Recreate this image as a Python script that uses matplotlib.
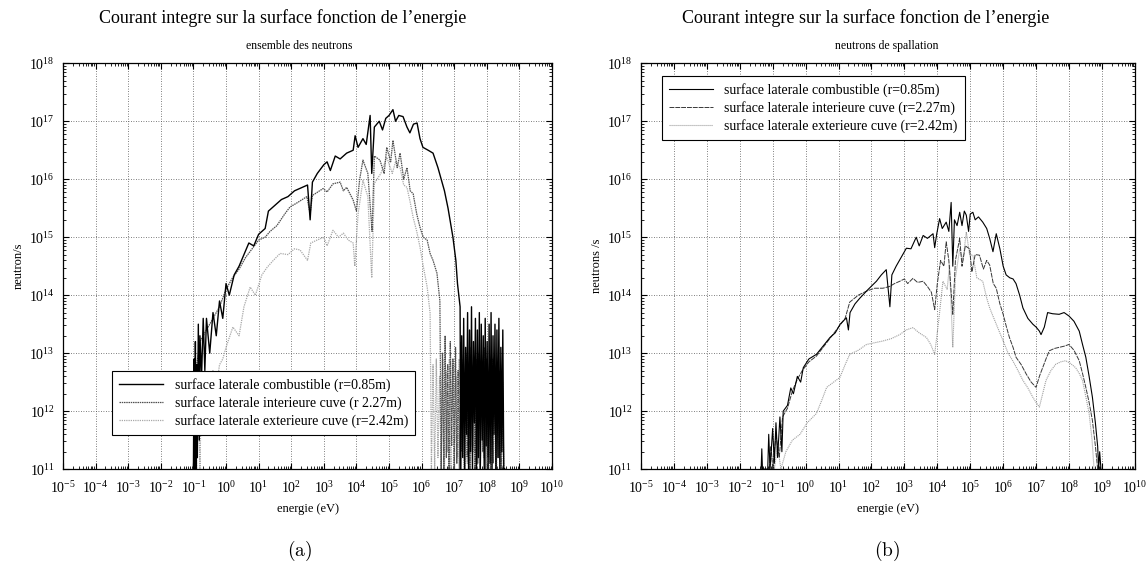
import matplotlib
matplotlib.use("Agg")
import matplotlib.pyplot as plt
from matplotlib.ticker import LogLocator, NullFormatter
import numpy as np

plt.rcParams['font.family'] = ['Liberation Serif', 'DejaVu Serif']
plt.rcParams['mathtext.fontset'] = 'stix'

# ---------------- data (log10 energy [eV], log10 flux [neutron/s]) ----------------
main_title = "Courant integre sur la surface fonction de l’energie"
subtitles = ["ensemble des neutrons", "neutrons de spallation"]
ylabels = ["neutron/s", "neutrons /s"]
xlabel = "energie (eV)"
panel_tags = ["(a)", "(b)"]
labels_a = ["surface laterale combustible (r=0.85m)",
            "surface laterale interieure cuve (r 2.27m)",
            "surface laterale exterieure cuve (r=2.42m)"]
labels_b = ["surface laterale combustible (r=0.85m)",
            "surface laterale interieure cuve (r=2.27m)",
            "surface laterale exterieure cuve (r=2.42m)"]

# Panel (a) - combustible
a1_logE = [-1.0, -0.98, -0.96, -0.94, -0.92, -0.9, -0.88, -0.85, -0.82, -0.8, -0.75, -0.7, -0.65,
           -0.6, -0.5, -0.4, -0.3, -0.2, -0.1, 0.0, 0.1,
           0.25, 0.4, 0.55, 0.7, 0.85, 1.0, 1.2, 1.3, 1.5, 1.7, 1.9, 2.1, 2.3, 2.5, 2.58, 2.65, 2.8,
           3.0, 3.1, 3.2, 3.35, 3.5, 3.7, 3.9, 3.96, 4.05, 4.2, 4.3, 4.42, 4.47, 4.55, 4.7, 4.8,
           4.9, 5.0, 5.12, 5.2, 5.3, 5.43, 5.55, 5.64, 5.75, 5.86, 5.95, 6.04, 6.2, 6.35, 6.5,
           6.6, 6.7, 6.81, 6.9, 6.96, 7.05, 7.1, 7.18,
           7.2, 7.23, 7.26, 7.29, 7.32, 7.35, 7.38, 7.41, 7.44, 7.47, 7.5, 7.53, 7.56, 7.59, 7.62,
           7.65, 7.68, 7.71, 7.74, 7.77, 7.8, 7.83, 7.86, 7.89, 7.92, 7.95, 7.98, 8.01, 8.04,
           8.07, 8.1, 8.13, 8.16, 8.19, 8.22, 8.25, 8.28, 8.31, 8.34, 8.37, 8.4, 8.43, 8.46,
           8.49, 8.52, 8.55]
a1_logF = [11.0, 12.9, 11.0, 13.2, 11.0, 12.8, 11.2, 13.5, 11.5, 13.3, 12.6, 13.6, 12.7,
           13.6, 13.0, 13.7, 13.3, 13.9, 13.6, 14.2, 14.0,
           14.35, 14.5, 14.7, 14.9, 14.85, 15.05, 15.15, 15.45, 15.55, 15.65, 15.7, 15.8, 15.85,
           15.9, 15.3, 15.95, 16.1, 16.25, 16.3, 16.15, 16.4, 16.35, 16.45, 16.5, 16.75, 16.55,
           16.7, 16.6, 17.1, 16.1, 16.9, 17.0, 16.85, 17.05, 17.1, 17.2, 17.0, 17.1, 17.08, 16.9,
           16.8, 16.95, 16.97, 16.7, 16.55, 16.5, 16.45, 16.2, 16.0, 15.8, 15.5, 15.2, 15.0, 14.6,
           14.2, 13.8,
           11.0, 13.3, 11.2, 13.6, 11.0, 13.1, 11.6, 13.7, 11.0, 13.4, 11.3, 13.8, 11.0, 13.2,
           11.8, 13.6, 11.0, 13.4, 11.2, 13.7, 11.0, 13.5, 11.5, 13.3, 11.0, 13.6, 11.4, 13.2,
           11.0, 13.5, 11.1, 13.7, 11.0, 13.3, 11.6, 13.5, 11.0, 13.4, 11.2, 13.6, 11.0, 13.1,
           11.3, 13.4, 11.0, 11.0]

# Panel (a) - interieure cuve
a2_logE = [-1.0, -0.9, -0.8, -0.6, -0.4, -0.2, 0.0, 0.2, 0.4, 0.6, 0.8, 1.0, 1.2, 1.35, 1.56, 1.8,
           1.96, 2.2, 2.48, 2.58, 2.65, 2.98, 3.1, 3.28, 3.5, 3.6, 3.7, 3.9, 4.0, 4.1, 4.2, 4.35,
           4.48, 4.55, 4.72, 4.85, 4.93, 5.05, 5.12, 5.25, 5.34, 5.45, 5.55, 5.65, 5.74, 5.85,
           5.95, 6.05, 6.17, 6.26, 6.35, 6.47, 6.56,
           6.6, 6.64, 6.68, 6.72, 6.76, 6.8, 6.84, 6.88, 6.92, 6.96, 7.0, 7.04, 7.08, 7.12, 7.16,
           7.2, 7.24, 7.28, 7.32, 7.36, 7.4, 7.44, 7.48, 7.52, 7.56, 7.6, 7.64, 7.68, 7.72, 7.76,
           7.8, 7.84, 7.88, 7.92, 7.96, 8.0, 8.04, 8.08, 8.12, 8.16, 8.2, 8.24, 8.28, 8.32, 8.36,
           8.4, 8.44, 8.48, 8.52]
a2_logF = [11.0, 12.8, 13.2, 13.4, 13.6, 13.8, 14.1, 14.3, 14.45, 14.65, 14.8, 14.95, 15.0, 15.1,
           15.2, 15.4, 15.52, 15.6, 15.7, 15.4, 15.72, 15.84, 15.78, 15.92, 15.95, 15.8, 15.86,
           15.64, 15.45, 16.0, 16.33, 16.1, 15.1, 16.4, 16.33, 16.1, 16.55, 16.3, 16.67, 16.2,
           16.45, 16.0, 16.2, 15.8, 15.75, 15.4, 15.17, 15.0, 14.95, 14.72, 14.6, 14.38, 13.9,
           11.0, 13.0, 11.0, 13.3, 11.2, 12.8, 11.0, 13.2, 11.4, 12.9, 11.0, 13.1, 11.1, 12.7,
           11.0, 13.2, 11.3, 12.9, 11.0, 13.0, 11.2, 12.8, 11.0, 13.1, 11.4, 12.7, 11.0, 12.9,
           11.1, 13.0, 11.0, 12.8, 11.3, 13.1, 11.0, 12.9, 11.2, 12.7, 11.0, 12.9, 11.1, 12.8,
           11.0, 12.6, 11.2, 12.7, 11.0, 12.5, 11.0]

# Panel (a) - exterieure cuve
a3_logE = [-1.0, -0.95, -0.9, -0.85, -0.8, -0.75, -0.7, -0.6, -0.5, -0.4, -0.3, -0.2, -0.1, 0.0,
           0.21, 0.4, 0.55, 0.74, 0.9, 1.1, 1.26,
           1.45, 1.66, 1.9, 2.1, 2.27, 2.5, 2.6, 2.79, 3.0, 3.1, 3.28, 3.45, 3.6, 3.75, 3.9, 3.95,
           4.05, 4.2, 4.35, 4.47, 4.55, 4.75, 4.93, 5.1, 5.2, 5.34, 5.45, 5.55, 5.65, 5.74, 5.85,
           5.95, 6.05, 6.17, 6.26,
           6.3, 6.35, 6.4, 6.45, 6.5, 6.55, 6.6, 6.65, 6.7, 6.75, 6.8, 6.85, 6.9, 6.95, 7.0, 7.05,
           7.1, 7.15, 7.2, 7.25, 7.3, 7.35, 7.4, 7.45, 7.5, 7.55, 7.6, 7.65, 7.7, 7.75, 7.8, 7.85,
           7.9, 7.95, 8.0, 8.05, 8.1, 8.15, 8.2, 8.25, 8.3, 8.35, 8.4, 8.45, 8.5]
a3_logF = [11.0, 12.0, 11.0, 12.4, 11.0, 12.6, 11.8, 12.5, 12.2, 12.7, 12.4, 12.8, 12.9, 13.1,
           13.45, 13.3, 13.8, 14.14, 14.0, 14.35, 14.48,
           14.6, 14.72, 14.7, 14.8, 14.78, 14.6, 14.9, 14.95, 15.0, 14.85, 15.12, 15.0,
           15.07, 14.95, 14.9, 14.5, 15.4, 15.98, 15.7, 14.3, 15.93, 16.1, 16.38, 16.1, 16.3, 16.2,
           15.9, 15.86, 15.6, 15.34, 15.1, 14.83, 14.5, 14.14, 13.69,
           11.0, 12.8, 11.0, 12.9, 11.2, 12.6, 11.0, 12.9, 11.0, 12.7, 11.3, 12.9, 11.0, 12.8,
           11.0, 12.6, 11.2, 12.9, 11.0, 12.7, 11.0, 12.8, 11.1, 12.6, 11.0, 12.8, 11.3, 12.7,
           11.0, 12.9, 11.0, 12.6, 11.2, 12.8, 11.0, 12.7, 11.0, 12.6, 11.1, 12.5, 11.0, 12.6,
           11.0, 12.4, 11.0]

# Panel (b) - combustible
b1_logE = [-1.35, -1.33, -1.31, -1.15, -1.12, -1.08, -1.0, -0.95, -0.9, -0.85, -0.78, -0.72, -0.68,
           -0.55, -0.45, -0.37, -0.25, -0.15, -0.07, 0.1, 0.33, 0.5, 0.74, 0.9, 1.05, 1.24, 1.3,
           1.35, 1.5, 1.65, 1.9, 2.15, 2.3, 2.45, 2.56, 2.62, 2.75, 2.9, 3.06, 3.2, 3.36, 3.45,
           3.57, 3.7, 3.87, 3.92, 3.98, 4.07, 4.15, 4.27, 4.35, 4.42, 4.47, 4.52, 4.6, 4.68, 4.75,
           4.82, 4.88, 4.95, 5.0, 5.08, 5.15, 5.25, 5.38, 5.5, 5.59, 5.69, 5.79, 5.9, 6.0, 6.09,
           6.2, 6.3, 6.39, 6.5, 6.6, 6.75, 6.9, 7.0, 7.1, 7.15, 7.25, 7.35, 7.5, 7.7, 7.85, 8.0,
           8.15, 8.31, 8.41, 8.51, 8.61, 8.71, 8.8, 8.87, 8.9, 8.93, 8.97]
b1_logF = [11.0, 11.35, 11.0, 11.0, 11.6, 11.0, 11.7, 11.1, 11.8, 11.2, 11.9, 11.3, 12.0, 12.1,
           12.4, 12.3, 12.6, 12.5, 12.75, 12.9, 12.98, 13.1, 13.27, 13.35, 13.5, 13.61, 13.4, 13.7,
           13.85, 13.95, 14.1, 14.24, 14.35, 14.44, 13.8, 14.35, 14.5, 14.65, 14.81, 14.8, 15.0,
           14.85, 15.03, 14.98, 15.06, 14.82, 15.05, 15.32, 15.15, 15.26, 15.1, 15.6, 14.5, 15.3,
           15.2, 15.43, 15.2, 15.45, 15.38, 15.1, 15.4, 15.43, 15.3, 15.35, 15.26, 15.15, 14.98,
           14.75, 15.06, 14.8, 14.5, 14.35, 14.3, 14.28, 14.2, 14.0, 13.78, 13.6, 13.5, 13.45,
           13.38, 13.32, 13.45, 13.7, 13.68, 13.67, 13.7, 13.64, 13.55, 13.38, 13.15, 12.93, 12.6,
           12.24, 11.8, 11.39, 11.0, 11.3, 11.0]

# Panel (b) - interieure cuve
b2_logE = [-1.1, -1.05, -1.0, -0.9, -0.8, -0.7, -0.55, -0.4, -0.25, -0.1, 0.1, 0.33, 0.6, 0.8, 1.0,
           1.2, 1.34, 1.6, 1.85, 2.1, 2.35, 2.55, 2.7, 2.86, 3.0, 3.1, 3.26, 3.4, 3.57, 3.7, 3.82,
           3.92, 4.0, 4.1, 4.2, 4.27, 4.35, 4.47, 4.55, 4.68, 4.75, 4.85, 4.98, 5.05, 5.15, 5.28,
           5.4, 5.5, 5.59, 5.7, 5.79, 5.9, 6.0, 6.1, 6.19, 6.3, 6.39, 6.55, 6.7, 6.85, 7.0, 7.1,
           7.2, 7.3, 7.4, 7.55, 7.7, 7.85, 8.0, 8.15, 8.31, 8.41, 8.51, 8.61, 8.71, 8.8, 8.87]
b2_logF = [11.0, 11.4, 11.0, 11.6, 11.2, 11.9, 12.05, 12.35, 12.55, 12.7, 12.85, 12.95, 13.15,
           13.3, 13.45, 13.6, 13.88, 14.0, 14.07, 14.12, 14.12, 14.15, 14.2, 14.24, 14.28, 14.2,
           14.29, 14.22, 14.24, 14.15, 14.05, 13.75, 14.2, 14.6, 14.5, 14.92, 14.6, 13.67, 14.6,
           14.98, 14.5, 14.85, 14.8, 14.4, 14.7, 14.69, 14.45, 14.6, 14.52, 14.2, 14.12, 13.85,
           13.67, 13.45, 13.27, 13.1, 12.93, 12.8, 12.64, 12.5, 12.41, 12.6, 12.75, 12.9, 13.04,
           13.08, 13.1, 13.12, 13.15, 13.05, 12.87, 12.65, 12.41, 12.15, 11.84, 11.4, 11.0]

# Panel (b) - exterieure cuve
b3_logE = [-1.1, -1.05, -0.95, -0.85, -0.75, -0.6, -0.4, -0.17, 0.05, 0.33, 0.5, 0.64, 0.85, 1.04,
           1.2, 1.34, 1.6, 1.85, 2.1, 2.35, 2.6, 2.86, 3.05, 3.26, 3.45, 3.67, 3.8, 3.92, 4.05,
           4.17, 4.3, 4.37, 4.47, 4.55, 4.68, 4.78, 4.88, 4.98, 5.08, 5.2, 5.38, 5.5, 5.59, 5.79,
           6.0, 6.15, 6.29, 6.45, 6.6, 6.75, 6.9, 7.0, 7.1, 7.2, 7.3, 7.45, 7.6, 7.75, 7.9, 8.05,
           8.2, 8.31, 8.41, 8.51, 8.61, 8.7, 8.76]
b3_logF = [11.0, 11.3, 11.0, 11.4, 11.0, 11.3, 11.5, 11.6, 11.8, 11.96, 12.2, 12.41, 12.5, 12.58,
           12.8, 12.98, 13.05, 13.15, 13.18, 13.21, 13.25, 13.32, 13.4, 13.44, 13.35, 13.27, 13.15,
           12.98, 13.6, 14.24, 14.1, 14.52, 13.1, 14.3, 14.8, 14.6, 15.09, 14.7, 14.69, 14.3,
           14.24, 13.95, 13.78, 13.5, 13.21, 13.0, 12.87, 12.7, 12.53, 12.4, 12.24, 12.15, 12.07,
           12.3, 12.53, 12.7, 12.81, 12.85, 12.87, 12.82, 12.75, 12.65, 12.53, 12.25, 11.96, 11.5,
           11.0]

# ---------------- figure ----------------
fig = plt.figure(figsize=(11.46, 5.70), dpi=100)
axA = fig.add_axes([0.055, 0.177, 0.4267, 0.712])
axB = fig.add_axes([0.5593, 0.177, 0.431, 0.712])

styles_a = [dict(color='black', lw=1.0, ls='-'),
            dict(color='#505050', lw=0.9, ls=(0, (1.2, 0.6))),
            dict(color='#a8a8a8', lw=0.9, ls=(0, (1.0, 0.8)))]
styles_b = [dict(color='black', lw=0.8, ls='-'),
            dict(color='#383838', lw=0.7, ls=(0, (5, 1))),
            dict(color='#a0a0a0', lw=0.8, ls=(0, (1.0, 0.8)))]

series_a = [(a1_logE, a1_logF), (a2_logE, a2_logF), (a3_logE, a3_logF)]
series_b = [(b1_logE, b1_logF), (b2_logE, b2_logF), (b3_logE, b3_logF)]

handles_all = []
for ax, series, styles, labels in [(axA, series_a, styles_a, labels_a),
                                    (axB, series_b, styles_b, labels_b)]:
    lines = {}
    for i in [2, 1, 0]:
        e, f = series[i]
        n = min(len(e), len(f))
        ln, = ax.plot(10.0 ** np.array(e[:n]), 10.0 ** np.array(f[:n]), label=labels[i],
                      **styles[i])
        lines[i] = ln
    handles_all.append([lines[0], lines[1], lines[2]])
    ax.set_xscale('log')
    ax.set_yscale('log')
    ax.set_xlim(1e-5, 1e10)
    ax.set_ylim(1e11, 1e18)
    ax.xaxis.set_major_locator(LogLocator(base=10, numticks=30))
    ax.yaxis.set_major_locator(LogLocator(base=10, numticks=30))
    ax.xaxis.set_minor_locator(LogLocator(base=10, subs=np.arange(2, 10), numticks=30))
    ax.yaxis.set_minor_locator(LogLocator(base=10, subs=np.arange(2, 10), numticks=30))
    ax.xaxis.set_minor_formatter(NullFormatter())
    ax.yaxis.set_minor_formatter(NullFormatter())
    ax.tick_params(which='both', direction='in', top=True, right=True, labelsize=10)
    ax.tick_params(which='major', length=4, width=0.8)
    ax.tick_params(which='minor', length=2, width=0.6)
    ax.tick_params(axis='x', which='major', pad=8)
    ax.tick_params(axis='y', which='major', pad=6)
    ax.grid(True, which='major', color='#555555', ls=(0, (1, 2)), lw=0.6)
    for s in ax.spines.values():
        s.set_linewidth(0.9)
    ax.set_xlabel(xlabel, fontsize=9, labelpad=5)

axA.set_ylabel(ylabels[0], fontsize=9, labelpad=3)
axB.set_ylabel(ylabels[1], fontsize=9, labelpad=3)

legA = axA.legend(handles=handles_all[0], loc='lower left', bbox_to_anchor=(0.086, 0.066),
                  fontsize=10, frameon=True, fancybox=False, edgecolor='black',
                  handlelength=3.2, borderpad=0.5, labelspacing=0.3, framealpha=1.0)
legA.get_frame().set_linewidth(0.8)
legB = axB.legend(handles=handles_all[1], loc='upper left', bbox_to_anchor=(0.028, 0.985),
                  fontsize=10, frameon=True, fancybox=False, edgecolor='black',
                  handlelength=3.2, borderpad=0.5, labelspacing=0.3, framealpha=1.0)
legB.get_frame().set_linewidth(0.8)

# titles
fig.text(283 / 1146, 1 - 18 / 570, main_title, ha='center', va='center', fontsize=13)
fig.text(866 / 1146, 1 - 18 / 570, main_title, ha='center', va='center', fontsize=13)
fig.text(299 / 1146, 1 - 46 / 570, subtitles[0], ha='center', va='center', fontsize=8.5)
fig.text(887 / 1146, 1 - 46 / 570, subtitles[1], ha='center', va='center', fontsize=8.5)

# panel tags (Computer Modern look)
fig.text(300 / 1146, 1 - 551 / 570, r'$\mathrm{' + panel_tags[0] + '}$', ha='center',
         va='center', fontsize=14, math_fontfamily='cm')
fig.text(887 / 1146, 1 - 551 / 570, r'$\mathrm{' + panel_tags[1] + '}$', ha='center',
         va='center', fontsize=14, math_fontfamily='cm')

fig.savefig('out.png', dpi=100)
